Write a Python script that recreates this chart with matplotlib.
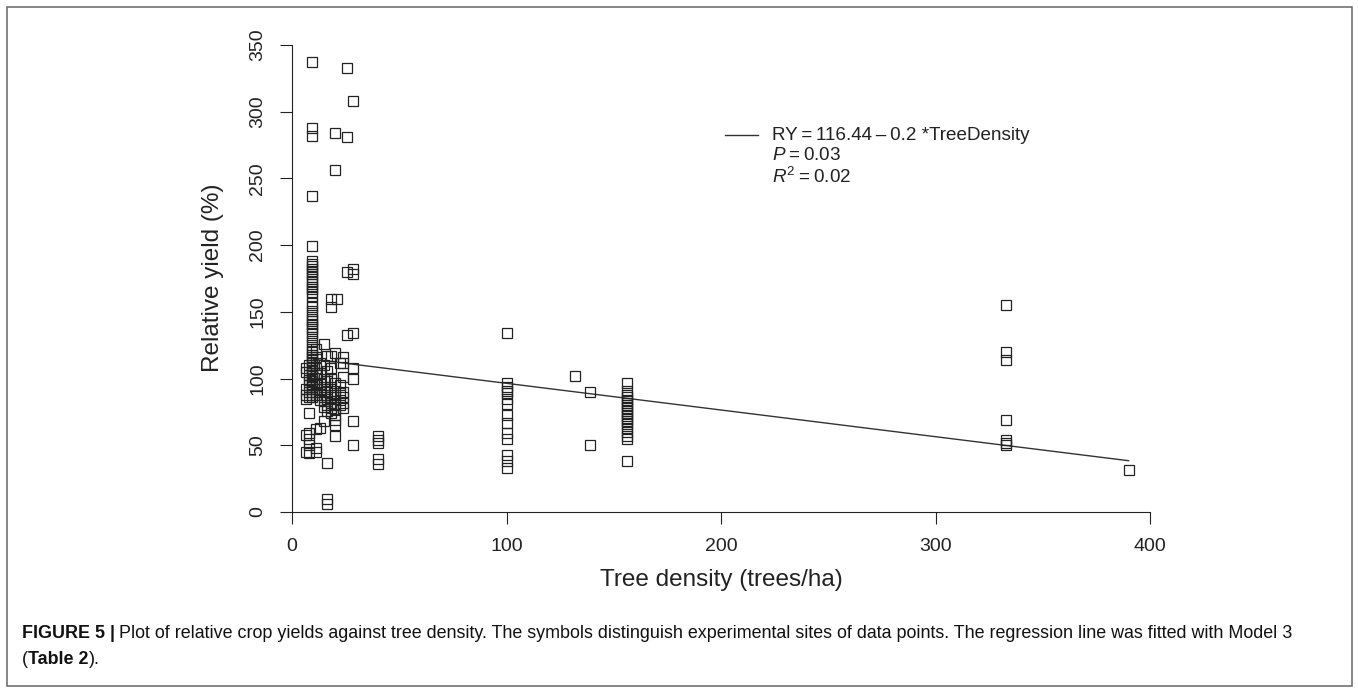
import numpy as np
import matplotlib
matplotlib.use("Agg")
import matplotlib.pyplot as plt
from matplotlib.lines import Line2D
from matplotlib.patches import Rectangle

plt.rcParams['font.family'] = ['Liberation Sans', 'DejaVu Sans']
plt.rcParams['mathtext.fontset'] = 'custom'
plt.rcParams['mathtext.rm'] = 'Liberation Sans'
plt.rcParams['mathtext.it'] = 'Liberation Sans:italic'

site_density = [6.5, 8, 9.5, 11, 13, 15, 16.5, 18, 20, 21, 22.5, 24, 25.5, 28.5,
                40, 100, 132, 139, 156, 333, 390]
site_yields = [
    [108, 105, 92, 88, 85, 58, 45],
    [110, 103, 99, 95, 90, 86, 74, 59, 55, 50, 44],
    [337, 288, 282, 237, 199, 188, 186, 184, 182, 180, 178, 176, 173, 171, 169,
     167, 165, 162, 157, 154, 151, 148, 145, 143, 141, 139, 137, 134, 131, 128,
     125, 122, 120, 118, 116, 114, 112, 110, 108, 106, 104, 102, 100, 98, 96,
     94, 92, 90, 88, 86],
    [122, 116, 108, 103, 97, 92, 88, 62, 48, 45],
    [112, 104, 96, 90, 84, 63],
    [126, 110, 100, 94, 88, 83, 79, 68],
    [117, 106, 98, 90, 85, 80, 76, 36.5, 10, 6],
    [160, 154, 117, 108, 100, 94, 88, 82, 78, 74],
    [284, 256, 119, 97, 91, 86, 81, 77, 73, 69, 65, 57],
    [160],
    [112, 95, 89, 84, 80],
    [116, 112, 101, 90, 86, 82, 78],
    [333, 281, 180, 133],
    [308, 182, 178, 134, 108, 100, 68, 50],
    [57, 54, 51.5, 40, 36],
    [134, 97, 94, 91, 89, 85, 81, 73, 67, 59, 55, 43, 38, 33],
    [102],
    [90, 50],
    [97, 91, 88, 86, 84, 82, 80, 78, 76, 74, 72, 70, 68, 66, 63, 60, 57, 55, 38],
    [155, 120, 114, 69, 54, 52, 50.5],
    [31.5],
]

# fitted model 3
intercept = 116.44
slope = -0.2
fit_range = [10, 390]

x_ticks = [0, 100, 200, 300, 400]
y_ticks = [0, 50, 100, 150, 200, 250, 300, 350]

density = []
rel_yield = []
for d, ys in zip(site_density, site_yields):
    for y in ys:
        density.append(d)
        rel_yield.append(y)

W, H = 1358, 691
fig = plt.figure(figsize=(W / 100, H / 100), dpi=100)
ax = fig.add_axes([292 / W, 1 - 512 / H, (1150 - 292) / W, (512 - 45) / H])

ink = '#222222'
ax.plot(density, rel_yield, 's', mfc='none', mec=ink, ms=6.5, mew=0.9,
        clip_on=False, zorder=3)

fx = np.array(fit_range)
ax.plot(fx, intercept + slope * fx, color='#333333', lw=1.0, zorder=2)

ax.set_xlim(0, 400)
ax.set_ylim(0, 350)
ax.set_xticks(x_ticks)
ax.set_yticks(y_ticks)
for side in ['top', 'right']:
    ax.spines[side].set_visible(False)
for side in ['left', 'bottom']:
    ax.spines[side].set_linewidth(0.8)
    ax.spines[side].set_color(ink)
ax.tick_params(direction='out', length=8.4, width=0.8, pad=10, color=ink,
               labelsize=14, labelcolor=ink)
for lab in ax.get_yticklabels():
    lab.set_rotation(90)
    lab.set_va('center')

fig.text(213 / W, 1 - 278 / H, 'Relative yield (%)', rotation=90,
         ha='center', va='center', fontsize=17.5, color=ink)
fig.text(721 / W, 1 - 580 / H, 'Tree density (trees/ha)',
         ha='center', va='center', fontsize=17.5, color=ink)

# legend for the fitted line
fig.add_artist(Line2D([725 / W, 758 / W], [1 - 135 / H, 1 - 135 / H],
                      color='#333333', lw=1.0))
leg_lines = ['RY\u2009=\u2009116.44\u2009–\u20090.2 *TreeDensity',
             '$P$\u2009=\u20090.03', '$R^2$\u2009=\u20090.02']
for i, s in enumerate(leg_lines):
    fig.text(772 / W, 1 - (135 + 21 * i) / H, s, ha='left', va='center',
             fontsize=13.6, color=ink)

# frame round the figure
fig.add_artist(Rectangle((7 / W, 1 - 686 / H), (1352 - 7) / W, (686 - 7) / H,
                         transform=fig.transFigure, fill=False,
                         edgecolor='#666666', lw=1.1))

# caption, bold and regular pieces side by side
fig.canvas.draw()
rend = fig.canvas.get_renderer()
cap_size = 12.9


def put(x, y, s, bold=False):
    t = fig.text(x, y, s, ha='left', va='center', fontsize=cap_size,
                 fontweight='bold' if bold else 'normal', color='#111111')
    return x + t.get_window_extent(rend).width / W


gap = 4 / W
y1 = 1 - 633 / H
y2 = 1 - 660 / H
x = put(22 / W, y1, 'FIGURE 5 |', bold=True)
put(x + gap, y1, 'Plot of relative crop yields against tree density. The symbols '
    'distinguish experimental sites of data points. The regression line was '
    'fitted with Model 3')
x = put(22 / W, y2, '(')
x = put(x, y2, 'Table 2', bold=True)
put(x, y2, ').')

fig.savefig('out.png', dpi=100)
